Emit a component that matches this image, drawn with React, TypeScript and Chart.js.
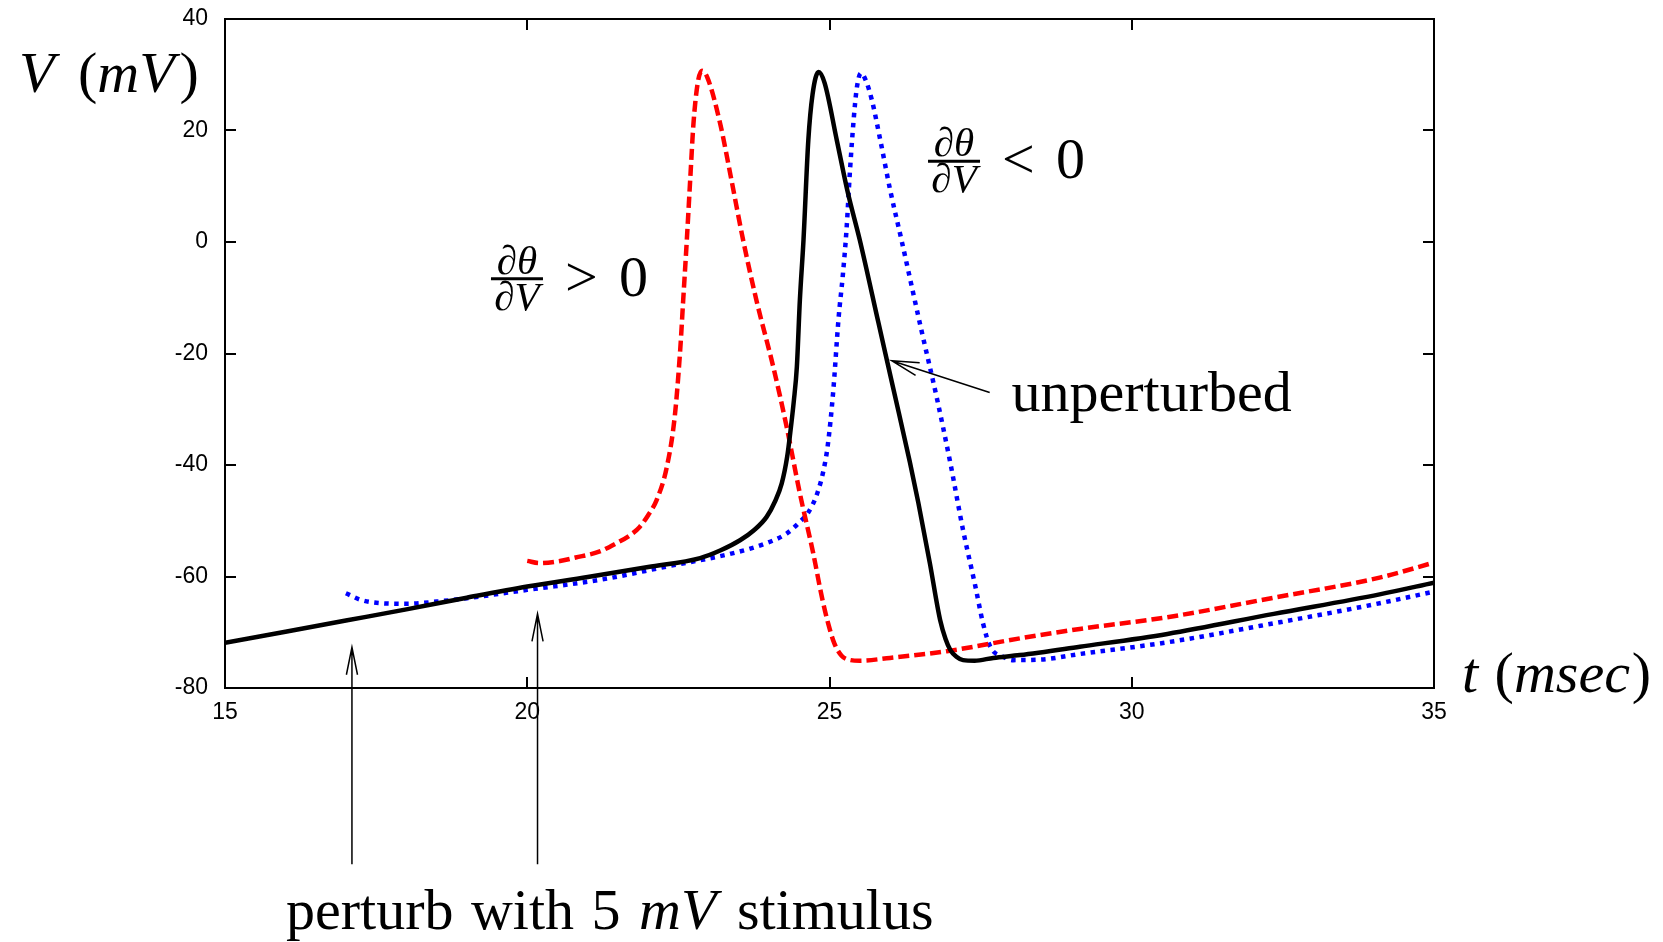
import React, { useEffect, useRef } from "react";
import { Chart, registerables } from "chart.js";

Chart.register(...registerables);

// ---- axis ticks ----
const xTicks = [15, 20, 25, 30, 35];
const yTicks = [-80, -60, -40, -20, 0, 20, 40];

// ---- unperturbed (black, solid) ----
const unperturbedT = [
  15, 16, 17, 18, 19, 20, 21, 22, 22.86, 23.2, 23.52, 23.75, 23.96, 24.1, 24.21, 24.3, 24.35, 24.41,
  24.46, 24.51, 24.57, 24.65, 24.72, 24.82, 24.92, 25.12, 25.3, 25.5, 25.81, 26.06, 26.33, 26.47,
  26.66, 26.83, 26.92, 27.0, 27.1, 27.21, 27.4, 27.71, 28.15, 29.14, 30.59, 32.35, 34.1, 35,
];
const unperturbedV = [
  -71.9, -69.9, -67.9, -65.9, -63.8, -61.8, -60.1, -58.3, -56.7, -55.3, -53.5, -51.7, -49.3, -46.5,
  -43.3, -38.5, -34.3, -28.5, -22.4, -10.4, 0.4, 18.3, 26.5, 30.5, 28.5, 18.3, 9.0, 0.4, -14.5,
  -26.5, -39.5, -46.8, -57.6, -67.8, -71.2, -73.2, -74.4, -75.0, -75.1, -74.6, -74.1, -72.6, -70.3,
  -66.7, -63.2, -61.1,
];

// ---- dθ/dV > 0 (red, dashed) ----
const advancedT = [
  20.0, 20.2, 20.5, 20.8, 21.2, 21.48, 21.7, 21.86, 22.0, 22.14, 22.31, 22.44, 22.53, 22.58, 22.64,
  22.7, 22.75, 22.82, 22.89, 22.98, 23.19, 23.38, 23.57, 23.79, 24.07, 24.29, 24.51, 24.73, 24.88,
  24.98, 25.08, 25.2, 25.35, 25.5, 26.0, 26.94, 28.15, 29.14, 30.59, 32.35, 34.1, 35,
];
const advancedV = [
  -57.2, -57.6, -57.3, -56.6, -55.5, -54.0, -52.6, -51.1, -49.0, -46.3, -40.3, -31.3, -19.4, -10.4,
  0.4, 12.0, 21.3, 28.5, 30.7, 29.5, 21.3, 11.0, 0.4, -10.4, -22.4, -33.1, -45.1, -55.8, -64.0,
  -68.5, -72.0, -74.2, -75.0, -75.1, -74.6, -73.4, -71.1, -69.4, -67.3, -63.8, -60.2, -57.5,
];

// ---- dθ/dV < 0 (blue, dotted) ----
const delayedT = [
  17.0, 17.25, 17.6, 18.0, 18.5, 19.0, 20.0, 21.2, 22.31, 23.41, 23.96, 24.29, 24.51, 24.65, 24.8,
  24.9, 24.97, 25.06, 25.15, 25.22, 25.28, 25.34, 25.4, 25.45, 25.52, 25.6, 25.7, 25.84, 26.0, 26.19,
  26.52, 26.77, 27.0, 27.21, 27.41, 27.54, 27.66, 27.87, 28.04, 28.5, 29.14, 30.59, 32.35, 34.1, 35,
];
const delayedV = [
  -63.0, -64.2, -64.8, -64.9, -64.5, -63.9, -62.4, -60.6, -58.2, -55.8, -54.0, -52.3, -50.2, -48.5,
  -45.0, -41.0, -36.6, -27.0, -13.7, -6.0, 2.0, 13.0, 22.0, 27.5, 30.3, 29.0, 25.5, 18.3, 9.5, 0.4,
  -15.8, -27.7, -39.7, -51.7, -61.6, -68.4, -72.6, -74.4, -75.0, -74.9, -73.9, -71.8, -68.4, -64.8,
  -62.7,
];

// ---- annotations (data coordinates) ----
const stimulusT = [17.1, 20.17];
const stimulusTipV = [-72.7, -66.7];
const stimulusTailV = -111.6;
const unperturbedArrow = { tipT: 26.03, tipV: -21.3, tailT: 27.65, tailV: -27.0 };
const unperturbedLabel = { t: 28.01, v: -30.4, text: "unperturbed" };
const fracPos = { t: 19.83, v: -6.6, rel: ">" };
const fracNeg = { t: 27.06, v: 14.5, rel: "<" };

const SERIF = '"Liberation Serif", "Times New Roman", serif';
const SANS = '"Liberation Sans", Arial, Helvetica, sans-serif';
const BIG = 58;

type Run = [string, boolean, number?];

function toPoints(t: number[], v: number[]) {
  return t.map((x, i) => ({ x, y: v[i] }));
}

function drawRuns(ctx: CanvasRenderingContext2D, runs: Run[], x: number, y: number, size: number) {
  let cx = x;
  ctx.textAlign = "left";
  ctx.textBaseline = "alphabetic";
  for (const [s, it, extra] of runs) {
    ctx.font = `${it ? "italic " : ""}${size}px ${SERIF}`;
    ctx.fillText(s, cx, y);
    cx += ctx.measureText(s).width + (extra || 0);
  }
}

function drawArrow(ctx: CanvasRenderingContext2D, x1: number, y1: number, x2: number, y2: number, len: number, ang: number, lw: number) {
  ctx.save();
  ctx.strokeStyle = "#000";
  ctx.lineWidth = lw;
  ctx.beginPath();
  ctx.moveTo(x1, y1);
  ctx.lineTo(x2, y2);
  const a = Math.atan2(y1 - y2, x1 - x2);
  ctx.moveTo(x2 + len * Math.cos(a + ang), y2 + len * Math.sin(a + ang));
  ctx.lineTo(x2, y2);
  ctx.lineTo(x2 + len * Math.cos(a - ang), y2 + len * Math.sin(a - ang));
  ctx.stroke();
  ctx.restore();
}

function drawFraction(ctx: CanvasRenderingContext2D, cx: number, barY: number, rel: string) {
  const halfW = 26;
  ctx.save();
  ctx.fillStyle = "#000";
  ctx.strokeStyle = "#000";
  ctx.lineWidth = 3;
  ctx.beginPath();
  ctx.moveTo(cx - halfW, barY);
  ctx.lineTo(cx + halfW, barY);
  ctx.stroke();
  ctx.textAlign = "center";
  ctx.textBaseline = "alphabetic";
  ctx.font = `italic 41px ${SERIF}`;
  ctx.fillText("\u2202\u03B8", cx, barY - 5);
  ctx.fillText("\u2202V", cx, barY + 31);
  ctx.textAlign = "left";
  ctx.font = `${BIG}px ${SERIF}`;
  ctx.fillText(rel, cx + halfW + 22, barY + 17);
  ctx.fillText("0", cx + halfW + 76, barY + 17);
  ctx.restore();
}

const framePlugin = {
  id: "frameAndNotes",
  afterDraw(chart: any) {
    const ctx: CanvasRenderingContext2D = chart.ctx;
    const { left, right, top, bottom } = chart.chartArea;
    const xs = chart.scales.x;
    const ys = chart.scales.y;
    ctx.save();
    // frame
    ctx.strokeStyle = "#000";
    ctx.lineWidth = 2;
    ctx.strokeRect(left, top, right - left, bottom - top);
    // inward ticks
    const tl = 11;
    ctx.beginPath();
    for (const v of xTicks) {
      const px = Math.round(xs.getPixelForValue(v));
      ctx.moveTo(px, bottom);
      ctx.lineTo(px, bottom - tl);
      ctx.moveTo(px, top);
      ctx.lineTo(px, top + tl);
    }
    for (const v of yTicks) {
      const py = Math.round(ys.getPixelForValue(v));
      ctx.moveTo(left, py);
      ctx.lineTo(left + tl, py);
      ctx.moveTo(right, py);
      ctx.lineTo(right - tl, py);
    }
    ctx.stroke();

    ctx.fillStyle = "#000";
    // axis titles
    drawRuns(ctx, [["V", true, 9], [" (", false], ["mV", true, 5], [")", false]], left - 206, top + 73, BIG);
    drawRuns(ctx, [["t", true, 2], [" (", false], ["msec", true, 2], [")", false]], right + 28, bottom + 4, BIG);
    drawRuns(
      ctx,
      [["perturb ", false, 3], ["with ", false, 3], ["5 ", false, 4], ["mV", true, 6], [" stimulus", false]],
      left + 61,
      bottom + 241,
      BIG
    );

    // stimulus arrows
    for (let i = 0; i < stimulusT.length; i++) {
      const px = xs.getPixelForValue(stimulusT[i]);
      drawArrow(ctx, px, ys.getPixelForValue(stimulusTailV), px, ys.getPixelForValue(stimulusTipV[i]), 28, 0.2, 1.5);
    }
    // unperturbed arrow + label
    drawArrow(
      ctx,
      xs.getPixelForValue(unperturbedArrow.tailT),
      ys.getPixelForValue(unperturbedArrow.tailV),
      xs.getPixelForValue(unperturbedArrow.tipT),
      ys.getPixelForValue(unperturbedArrow.tipV),
      28,
      0.24,
      1.5
    );
    drawRuns(ctx, [[unperturbedLabel.text, false]], xs.getPixelForValue(unperturbedLabel.t), ys.getPixelForValue(unperturbedLabel.v), BIG);

    // fractions
    drawFraction(ctx, xs.getPixelForValue(fracPos.t), ys.getPixelForValue(fracPos.v), fracPos.rel);
    drawFraction(ctx, xs.getPixelForValue(fracNeg.t), ys.getPixelForValue(fracNeg.v), fracNeg.rel);
    ctx.restore();
  },
};

export default function App() {
  const ref = useRef<HTMLCanvasElement | null>(null);
  useEffect(() => {
    if (!ref.current) return;
    const chart = new Chart(ref.current, {
      type: "line",
      data: {
        datasets: [
          {
            label: "unperturbed",
            data: toPoints(unperturbedT, unperturbedV),
            borderColor: "#000000",
            borderWidth: 4.5,
            pointRadius: 0,
            cubicInterpolationMode: "monotone",
            borderCapStyle: "round",
            borderJoinStyle: "round",
          },
          {
            label: "dtheta/dV > 0",
            data: toPoints(advancedT, advancedV),
            borderColor: "#ff0000",
            borderWidth: 4.5,
            borderDash: [11, 5],
            pointRadius: 0,
            cubicInterpolationMode: "monotone",
            borderCapStyle: "butt",
          },
          {
            label: "dtheta/dV < 0",
            data: toPoints(delayedT, delayedV),
            borderColor: "#0000ff",
            borderWidth: 4.5,
            borderDash: [4.5, 5.5],
            pointRadius: 0,
            cubicInterpolationMode: "monotone",
            borderCapStyle: "butt",
          },
        ],
      },
      options: {
        animation: false,
        responsive: false,
        events: [],
        layout: { padding: { left: 0, top: 19, right: 229, bottom: 0 } },
        plugins: { legend: { display: false }, tooltip: { enabled: false }, title: { display: false } },
        scales: {
          x: {
            type: "linear",
            min: 15,
            max: 35,
            grid: { display: false, drawTicks: false },
            border: { display: false },
            ticks: {
              stepSize: 5,
              padding: 11,
              color: "#000",
              font: { family: SANS, size: 23 },
              maxRotation: 0,
            },
            afterFit: (s: any) => {
              s.height = 942 - 688;
              s.paddingLeft = 0;
              s.paddingRight = 0;
            },
          },
          y: {
            type: "linear",
            min: -80,
            max: 40,
            grid: { display: false, drawTicks: false },
            border: { display: false },
            ticks: {
              stepSize: 20,
              padding: 17,
              color: "#000",
              font: { family: SANS, size: 23 },
            },
            afterFit: (s: any) => {
              s.width = 225;
              s.paddingTop = 0;
              s.paddingBottom = 0;
            },
          },
        },
      },
      plugins: [framePlugin],
    } as any);
    return () => chart.destroy();
  }, []);
  return (
    <div style={{ position: "absolute", left: 0, top: 0, width: 1663, height: 942, background: "#fff" }}>
      <canvas ref={ref} width={1663} height={942} style={{ width: 1663, height: 942, display: "block" }} />
    </div>
  );
}
